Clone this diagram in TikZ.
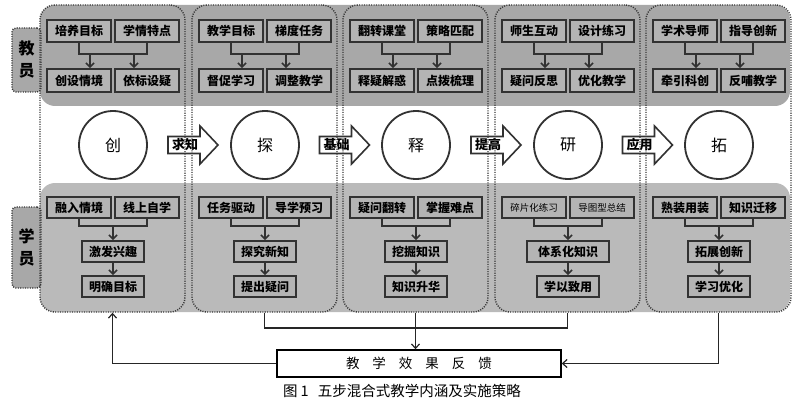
\documentclass[tikz,border=0pt]{standalone}
\usepackage{fontspec}
\setmainfont{Noto Sans CJK SC}
\usetikzlibrary{arrows.meta}
\definecolor{bandgray}{RGB}{168,168,168}
\definecolor{lowgray}{RGB}{186,186,186}
\definecolor{boxgray}{RGB}{180,180,180}
\definecolor{edge}{RGB}{50,50,50}
\definecolor{dotc}{RGB}{55,55,55}
\begin{document}
\begin{tikzpicture}[x=1pt,y=-1pt,
  band/.style={rounded corners=15pt},
  colbox/.style={draw=dotc, line width=1.4pt, dash pattern=on 1.1pt off 1.3pt,
    rounded corners=15pt, minimum width=145pt, minimum height=307pt, inner sep=0pt},
  lblbox/.style={draw=dotc, line width=1.4pt, dash pattern=on 1.1pt off 1.3pt,
    fill=bandgray, rounded corners=4pt, minimum width=29pt, inner sep=0pt,
    align=center, font=\bfseries\fontsize{16}{22}\selectfont},
  tbox/.style={draw=edge, line width=1.8pt, fill=boxgray, minimum width=64pt,
    minimum height=22pt, inner sep=0pt, font=\bfseries\fontsize{12}{12}\selectfont},
  sbig/.style={},
  ssmall/.style={font=\fontsize{9.5}{10}\selectfont},
  circ/.style={circle, draw=edge, line width=1.8pt, fill=white, minimum size=68pt,
    inner sep=0pt, font=\fontsize{16}{16}\selectfont},
  blockarr/.style={draw=edge, line width=1.6pt, fill=white, line join=miter},
  arrtext/.style={inner sep=0pt, font=\bfseries\fontsize{13}{13}\selectfont},
  conn/.style={draw=edge, line width=1.6pt},
  arr/.style={conn, -{Straight Barb[length=4pt,width=8pt]}},
  fline/.style={draw=black!85, line width=1.2pt},
  farr/.style={fline, -{Straight Barb[length=4.5pt,width=8pt]}},
  fbox/.style={draw=black, line width=1.4pt, fill=white, minimum width=284pt,
    minimum height=27pt, inner sep=0pt, font=\fontsize{13.5}{13.5}\selectfont},
  caption/.style={inner sep=0pt, font=\fontsize{14.5}{15}\selectfont}
]
\useasboundingbox (0,0) rectangle (800,409);
\fill[white] (0,0) rectangle (800,409);

% bands
\fill[bandgray, band] (40,5) rectangle (790,106);
\fill[lowgray, band] (40,183) rectangle (790,312);

% side labels
\node[lblbox, minimum height=64pt] (teach) at (26.5,60) {教\\员};
\node[lblbox, minimum height=81pt] (stud) at (26.5,247.5) {学\\员};

% block arrows between circles
\foreach \k/\xs/\lab in {1/168/求知, 2/319.5/基础, 3/471/提高, 4/622.5/应用} {
  \draw[blockarr] (\xs,136.5) -- ++(32,0) -- ++(0,-10.5) -- ++(18,19)
    -- ++(-18,19) -- ++(0,-10.5) -- ++(-32,0) -- cycle;
  \node[arrtext] (ar\k) at (\xs+17,145) {\lab};
}

% columns
\foreach \i/\c in {1/113, 2/265, 3/416, 4/568, 5/719} {
  \node[colbox] (col\i) at (\c-0.5,158.5) {};
}

% teacher boxes
\foreach \i/\c/\ta/\tb/\tc/\td in {
  1/113/培养目标/学情特点/创设情境/依标设疑,
  2/265/教学目标/梯度任务/督促学习/调整教学,
  3/416/翻转课堂/策略匹配/释疑解惑/点拨梳理,
  4/568/师生互动/设计练习/疑问反思/优化教学,
  5/719/学术导师/指导创新/牵引科创/反哺教学} {
  \node[tbox] (t\i a) at (\c-34,31) {\ta};
  \node[tbox] (t\i b) at (\c+34,31) {\tb};
  \node[tbox, minimum height=23pt] (t\i c) at (\c-34,80.5) {\tc};
  \node[tbox, minimum height=23pt] (t\i d) at (\c+34,80.5) {\td};
  \coordinate (tj\i a) at (\c-23,54);
  \coordinate (tj\i b) at (\c+21,54);
  \draw[conn] (t\i a.south) -- (t\i a.south |- tj\i a) -- (t\i b.south |- tj\i a) -- (t\i b.south);
  \draw[arr] (tj\i a) -- (tj\i a |- t\i c.north);
  \draw[arr] (tj\i b) -- (tj\i b |- t\i d.north);
}

% circles
\foreach \i/\c/\lab in {1/113/创, 2/265/探, 3/416/释, 4/568/研, 5/719/拓} {
  \node[circ] (k\i) at (\c,145) {\lab};
}

% student boxes
\foreach \i/\c/\sa/\sb/\sc/\sd/\st/\mw in {
  1/113/融入情境/线上自学/激发兴趣/明确目标/sbig/62,
  2/265/任务驱动/导学预习/探究新知/提出疑问/sbig/62,
  3/416/疑问翻转/掌握难点/挖掘知识/知识升华/sbig/62,
  4/568/碎片化练习/导图型总结/体系化知识/学以致用/ssmall/82,
  5/719/熟装用装/知识迁移/拓展创新/学习优化/sbig/62} {
  \node[tbox, minimum height=21pt, \st] (s\i a) at (\c-34,207.5) {\sa};
  \node[tbox, minimum height=21pt, \st] (s\i b) at (\c+34,207.5) {\sb};
  \node[tbox, minimum height=21pt, minimum width=\mw pt] (s\i c) at (\c,251.5) {\sc};
  \node[tbox, minimum height=21pt, minimum width=62pt] (s\i d) at (\c,286.5) {\sd};
  \coordinate (sj\i) at (\c,226);
  \draw[conn] (s\i a.south) -- (s\i a.south |- sj\i) -- (s\i b.south |- sj\i) -- (s\i b.south);
  \draw[arr] (sj\i) -- (s\i c.north);
  \draw[arr] (s\i c.south) -- (s\i d.north);
}

% feedback
\node[fbox] (fb) at (419,363.5) {教\hspace{13pt}学\hspace{13pt}效\hspace{13pt}果\hspace{13pt}反\hspace{13pt}馈};
\coordinate (fj) at (0,328);
\draw[fline] (col2.south) -- (col2.south |- fj) -- (col4.south |- fj) -- (col4.south);
\draw[farr] (col3.south) -- (col3.south |- fb.north);
\draw[farr] (fb.west) -| (col1.south);
\draw[farr] (col5.south) |- (fb.east);

% caption
\node[caption] (cap) at (402,391) {图\hspace{3pt}1\hspace{9pt}五步混合式教学内涵及实施策略};
\end{tikzpicture}
\end{document}
